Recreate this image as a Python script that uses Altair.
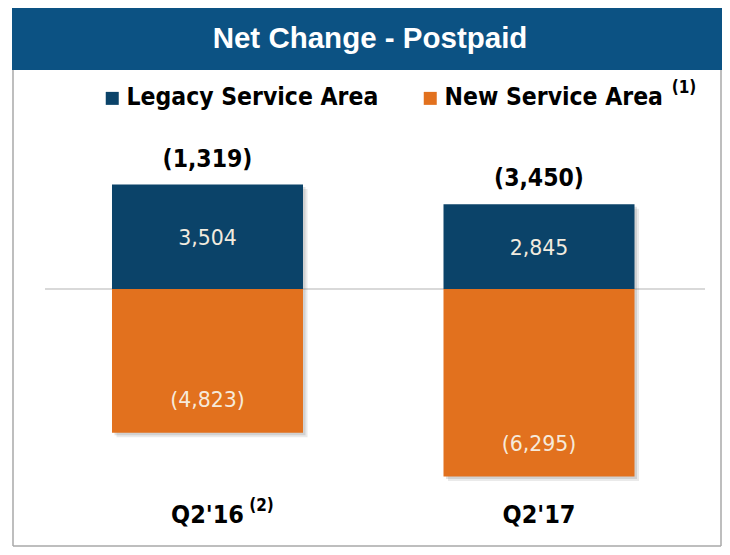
import altair as alt
import pandas as pd

# ---- data ----
categories = ["Q2'16", "Q2'17"]
category_notes = ["(2)", ""]
series = ["Legacy Service Area", "New Service Area"]
legacy_values = [3504, 2845]
new_area_values = [-4823, -6295]
net_totals = [-1319, -3450]
series_colors = ["#0b4369", "#e2711e"]
title_text = "Net Change - Postpaid"
legend_note = "(1)"


def fmt(v):
    s = f"{abs(v):,}"
    return f"({s})" if v < 0 else s


rows = []
for i, c in enumerate(categories):
    rows.append({"category": c, "series": series[0], "value": legacy_values[i]})
    rows.append({"category": c, "series": series[1], "value": new_area_values[i]})
bars_df = pd.DataFrame(rows)
bars_df["label"] = bars_df["value"].map(fmt)

tot_df = pd.DataFrame({
    "category": categories,
    "total": net_totals,
    "top": legacy_values,
    "note": category_notes,
})
tot_df["label"] = tot_df["total"].map(fmt)

W, H = 714, 539
FONT = "DejaVu Sans"
BFONT = "DejaVu Sans Condensed, DejaVu Sans"
PX_PER_UNIT = 0.0298
Y_LO, Y_HI = -8658, 9430


def xscale(shift=0.0):
    return alt.Scale(type="band", domain=categories, paddingInner=0, paddingOuter=0.0769,
                     align=(33.75 + shift) / 51.0)


def yscale(shift=0.0):
    d = shift / PX_PER_UNIT
    return alt.Scale(type="linear", domain=[Y_LO + d, Y_HI + d], nice=False, zero=False)


def X(shift=0.0):
    return alt.X("category:N", scale=xscale(shift), axis=None, sort=categories)


def Y(field, shift=0.0):
    return alt.Y(field, scale=yscale(shift), axis=None)


deco = alt.Chart(pd.DataFrame({"k": [0]}))

banner = deco.mark_rect(color="#0c5283").encode(
    x=alt.value(4), x2=alt.value(714), y=alt.value(0), y2=alt.value(62)
)
frame_left = deco.mark_rule(color="#a8a8a8", strokeWidth=1.5).encode(
    x=alt.value(5), y=alt.value(62), y2=alt.value(538)
)
frame_bottom = deco.mark_rule(color="#a8a8a8", strokeWidth=1.5).encode(
    x=alt.value(5), x2=alt.value(713), y=alt.value(538)
)
frame_right = deco.mark_rule(color="#a8a8a8", strokeWidth=1.5).encode(
    x=alt.value(713), y=alt.value(62), y2=alt.value(538)
)
title = deco.mark_text(
    text=title_text, font="Liberation Sans", fontSize=29.5, fontWeight="bold",
    color="white", align="center", baseline="middle"
).encode(x=alt.value(362), y=alt.value(31))

base = alt.Chart(bars_df).transform_calculate(zero="0")

zero_rule = deco.transform_calculate(zero="0").mark_rule(color="#b4b4b4", strokeWidth=1.2).encode(
    x=alt.value(37), x2=alt.value(697), y=Y("zero:Q")
)

shadow_far = base.mark_bar(size=191, color="#7a7a7a", opacity=0.16).encode(
    x=X(4.5), y=Y("value:Q", 4.5), y2="zero:Q"
)
shadow_near = base.mark_bar(size=191, color="#7a7a7a", opacity=0.22).encode(
    x=X(2.5), y=Y("value:Q", 2.5), y2="zero:Q"
)

bars = base.mark_bar(size=191).encode(
    x=X(),
    y=Y("value:Q"),
    y2="zero:Q",
    color=alt.Color(
        "series:N",
        scale=alt.Scale(domain=series, range=series_colors),
        legend=alt.Legend(
            title=None, orient="none", legendX=92, legendY=78, direction="horizontal",
            symbolType="square", symbolSize=169, symbolStrokeWidth=0, symbolOpacity=1,
            labelFont=BFONT, labelFontSize=24.5, labelFontWeight="bold", labelColor="black",
            labelOffset=2, columnPadding=39, padding=0, labelLimit=400,
        ),
    ),
)

pos_labels = alt.Chart(bars_df).transform_filter("datum.value > 0").transform_calculate(
    mid="datum.value / 2"
).mark_text(font=FONT, fontSize=20.5, color="#f2ebdf", baseline="middle", dy=2).encode(
    x=X(), y=Y("mid:Q"), text="label:N"
)

neg_labels = alt.Chart(bars_df).transform_filter("datum.value < 0").mark_text(
    font=FONT, fontSize=20.5, color="#f6eadb", baseline="middle", dy=-32
).encode(x=X(), y=Y("value:Q"), text="label:N")

tbase = alt.Chart(tot_df)
totals = tbase.mark_text(
    font=BFONT, fontSize=24.5, fontWeight="bold", color="black", baseline="middle", dy=-25
).encode(x=X(), y=Y("top:Q"), text="label:N")

cat_labels = tbase.mark_text(
    font=BFONT, fontSize=25, fontWeight="bold", color="black", baseline="middle"
).encode(x=X(), y=alt.value(507), text="category:N")

cat_notes = tbase.mark_text(
    font=BFONT, fontSize=17, fontWeight="bold", color="black", baseline="middle", dx=54
).encode(x=X(), y=alt.value(498), text="note:N")

leg_note = deco.mark_text(
    text=legend_note, font=BFONT, fontSize=17, fontWeight="bold", color="black",
    align="center", baseline="middle"
).encode(x=alt.value(676), y=alt.value(79.5))

chart = alt.layer(
    banner, frame_left, frame_bottom, frame_right, title,
    zero_rule, shadow_far, shadow_near, bars, pos_labels, neg_labels, totals,
    cat_labels, cat_notes, leg_note,
).resolve_scale(
    x="independent", y="independent"
).properties(
    width=W, height=H, autosize=alt.AutoSizeParams(type="none"), padding=0,
    background="white",
).configure_view(stroke=None)

chart.save("out.html", embed_options={"renderer": "svg", "actions": False})
